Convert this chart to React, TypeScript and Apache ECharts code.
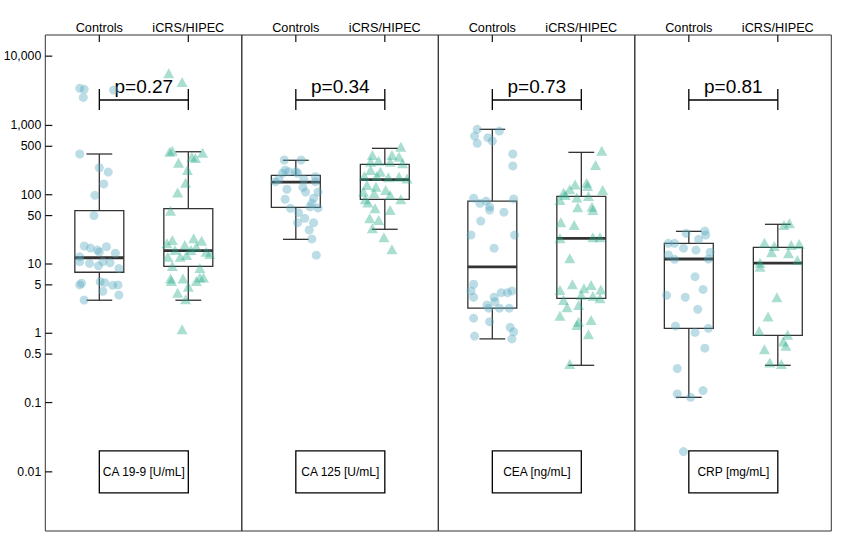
import React, { useEffect, useRef } from 'react';
import * as echarts from 'echarts';

const FONT = "'Liberation Sans', Arial, sans-serif";

const PANEL_LABELS = ['CA 19-9 [U/mL]', 'CA 125 [U/mL]', 'CEA [ng/mL]', 'CRP [mg/mL]'];
const GROUPS = ['Controls', 'iCRS/HIPEC'];
const P_VALUES = ['p=0.27', 'p=0.34', 'p=0.73', 'p=0.81'];
const BRACKET_VALUE = 2330;
const LABEL_BOX_VALUE = 0.01;

const Y_TICKS = [0.01, 0.1, 0.5, 1, 5, 10, 50, 100, 500, 1000, 10000];
const Y_TICK_LABELS = ['0.01', '0.1', '0.5', '1', '5', '10', '50', '100', '500', '1,000', '10,000'];
const Y_MIN = 0.0014;
const Y_MAX = 20200;
const X_MIN = 0.393;
const X_MAX = 2.601;

// box stats: [lower whisker, Q1, median, Q3, upper whisker]
const ca199Box = [[3.0, 7.6, 12.3, 58.8, 387], [3.0, 9.27, 15.6, 62.8, 417]];
const ca125Box = [[22.7, 65.8, 152, 190, 314], [31.7, 85.8, 165, 275, 467]];
const ceaBox = [[0.83, 2.3, 9.1, 81, 879], [0.345, 3.2, 23.5, 94.8, 409]];
const crpBox = [[0.119, 1.18, 11.8, 19.9, 29.6], [0.345, 0.935, 10.3, 17.4, 37.4]];

// points: [jitter offset, value]
const ca199Controls = [
  [-0.22, 3430], [-0.17, 3320], [-0.18, 2540], [0.16, 3240], [-0.22, 387], [0, 245], [0.1, 212], [0.05, 143],
  [-0.05, 98], [-0.06, 50], [-0.17, 18.2], [-0.1, 17], [-0.02, 15.9], [0, 14.9], [0.08, 17.8], [0.18, 14.3],
  [-0.22, 12.7], [-0.22, 10.8], [-0.11, 10.2], [-0.01, 9.4], [0.04, 10.8], [0.22, 8.6], [0.12, 10.4],
  [-0.22, 4.98], [-0.2, 5.27], [0.01, 5.56], [0.06, 5.37], [0.15, 4.93], [0.21, 4.98], [0.04, 4.04],
  [0.22, 3.57], [-0.17, 3.02],
];
const ca199Hipec = [
  [-0.22, 5650], [-0.07, 4230], [-0.18, 432], [-0.21, 417], [0.16, 404], [0.04, 353], [0.08, 338], [-0.11, 290],
  [-0.01, 227], [-0.03, 149], [-0.12, 108], [-0.2, 58.8], [-0.24, 19.9], [-0.18, 22.2], [0.06, 23.5], [0.15, 21.7],
  [-0.04, 18.8], [0.03, 15.9], [0.09, 17.8], [0.2, 15], [0.24, 13.9], [-0.23, 12.7], [-0.09, 12.7], [-0.02, 13.5],
  [-0.15, 15.9], [-0.18, 9.36], [0.13, 8.75], [-0.2, 6.2], [-0.06, 6.2], [0.13, 6.4], [0.17, 6.4], [0.09, 5.7],
  [-0.19, 5.7], [-0.12, 3.86], [0, 4.7], [-0.03, 3.1], [-0.07, 1.14],
];
const ca125Controls = [
  [-0.13, 317], [0.06, 317], [-0.12, 227], [-0.08, 215], [0, 215], [0.02, 204], [-0.15, 204], [-0.19, 167],
  [-0.23, 154], [0.22, 182], [0.22, 154], [0.09, 167], [-0.1, 120], [0.08, 128], [0.11, 109], [0.25, 109],
  [-0.12, 86], [0.2, 89], [0.18, 75], [0.16, 67], [0.25, 64.5], [-0.06, 63.7], [0.03, 55], [0.1, 45.6],
  [0.02, 39.5], [0.2, 39.5], [0.15, 31], [0.18, 23], [0.23, 13.4],
];
const ca125Hipec = [
  [0.18, 493], [-0.14, 374], [0.08, 374], [0.16, 353], [-0.07, 309], [-0.16, 299], [0.06, 299], [0.2, 284],
  [-0.16, 227], [-0.05, 215], [-0.09, 186], [-0.23, 186], [0.04, 178], [0.16, 182], [0.25, 172], [-0.2, 138],
  [-0.1, 130], [0.01, 117], [-0.24, 110], [-0.12, 105], [0.06, 99], [0.18, 86], [-0.22, 86], [-0.19, 77],
  [-0.11, 63.7], [0.06, 60], [-0.17, 45.6], [-0.07, 43], [-0.14, 32.7], [-0.01, 24.3], [0.08, 16.3],
];
const ceaControls = [
  [-0.17, 879], [0.08, 830], [-0.2, 703], [-0.05, 665], [0, 596], [-0.17, 552], [0.23, 387], [0.23, 260],
  [-0.21, 89], [-0.14, 75], [-0.07, 81], [-0.03, 60], [-0.03, 67], [0.24, 87], [0.13, 56], [-0.13, 41.7],
  [-0.24, 26.2], [0.25, 26.2], [0.02, 16.9], [-0.21, 5.1], [-0.24, 4.08], [-0.21, 3.31], [0.02, 3.31],
  [0.1, 3.85], [0.17, 3.85], [0.22, 4.08], [0.03, 2.86], [-0.06, 2.56], [0.08, 2.3], [0.19, 2.3], [-0.04, 2.3],
  [-0.21, 1.65], [-0.03, 1.47], [0.2, 1.22], [0.24, 1.05], [-0.2, 0.91], [0.22, 0.83],
];
const ceaHipec = [
  [0.23, 432], [0.16, 268], [-0.07, 141], [0.06, 149], [0.07, 134], [-0.2, 107], [-0.13, 120], [0.24, 117],
  [-0.18, 99], [-0.24, 84], [-0.05, 91], [0.08, 96], [0.12, 67], [0.13, 60], [-0.04, 66], [-0.23, 40],
  [-0.08, 36.5], [-0.24, 23.5], [0.13, 24.3], [0.21, 24.3], [-0.13, 12.1], [-0.1, 5.1], [-0.24, 4.2],
  [0.03, 4.46], [0.11, 4.98], [0.22, 4.3], [-0.2, 3.02], [0.13, 3.45], [0.21, 3.2], [0, 3.58], [-0.16, 2.37],
  [-0.03, 2.56], [-0.24, 1.79], [-0.05, 1.32], [-0.03, 1.47], [0.11, 1.56], [0.08, 0.97], [-0.13, 0.36],
];
const crpControls = [
  [-0.03, 27.7], [0.18, 29.9], [0.19, 26.2], [0.11, 22.7], [-0.23, 19.9], [-0.16, 19.9], [-0.06, 16.9],
  [0.08, 15.9], [0.24, 14.8], [-0.23, 13.5], [-0.16, 11.7], [0.22, 11.8], [0.07, 6.56], [0.16, 4.3],
  [-0.25, 3.53], [-0.04, 3.31], [0.1, 2.22], [-0.15, 1.27], [0.22, 1.18], [0.07, 1.03], [0.18, 0.61],
  [-0.13, 0.31], [-0.13, 0.133], [0.02, 0.119], [0.16, 0.149], [-0.06, 0.0196],
];
const crpHipec = [
  [0.07, 36.5], [0.13, 38.6], [-0.15, 20.3], [-0.04, 18.2], [-0.07, 14.8], [0.15, 18.8], [0.24, 19.4],
  [0.12, 14.3], [-0.2, 10.4], [0.22, 11.4], [-0.2, 9.1], [-0.01, 3.31], [-0.11, 1.74], [-0.21, 1.08],
  [0.11, 0.95], [0.06, 0.76], [0.09, 0.66], [-0.15, 0.59], [-0.09, 0.38], [0.04, 0.36],
];

const BOXES = [ca199Box, ca125Box, ceaBox, crpBox];
const CONTROLS = [ca199Controls, ca125Controls, ceaControls, crpControls];
const HIPEC = [ca199Hipec, ca125Hipec, ceaHipec, crpHipec];

const lg = (v: number) => Math.log10(v);
const TICK_LEN = 7;

function buildOption() {
  const grids: any[] = [];
  const xAxes: any[] = [];
  const yAxes: any[] = [];
  const series: any[] = [];
  const panelW = 196.5;
  const tickLogs = Y_TICKS.map(lg);
  const yTop = lg(Y_MAX);

  PANEL_LABELS.forEach((label, i) => {
    grids.push({
      left: 45.3 + i * panelW, top: 35, width: panelW, height: 496,
      show: true, borderColor: '#333', borderWidth: 1, backgroundColor: 'transparent',
    });
    xAxes.push({
      gridIndex: i, type: 'value', position: 'top', min: X_MIN, max: X_MAX,
      axisLine: { show: false, onZero: false }, splitLine: { show: false },
      axisTick: { show: false },
      axisLabel: {
        customValues: [1, 2], margin: 1, fontSize: 12.7, color: '#000', fontFamily: FONT,
        formatter: (v: number) => GROUPS[Math.round(v) - 1] ?? '',
      },
    });
    yAxes.push({
      gridIndex: i, type: 'value', min: lg(Y_MIN), max: yTop, show: i === 0,
      axisLine: { show: false, onZero: false }, splitLine: { show: false },
      axisTick: { show: false },
      axisLabel: {
        customValues: tickLogs, margin: 4, fontSize: 12.3, color: '#000', fontFamily: FONT,
        formatter: (v: number) => {
          const idx = tickLogs.findIndex((t) => Math.abs(t - v) < 1e-6);
          return idx >= 0 ? Y_TICK_LABELS[idx] : '';
        },
      },
    });

    series.push({
      type: 'custom', xAxisIndex: i, yAxisIndex: i, silent: true,
      data: BOXES[i].map((b, g) => [g + 1, ...b.map(lg)]),
      encode: { x: 0, y: [1, 2, 3, 4, 5] },
      renderItem: (params: any, api: any) => {
        const x = api.value(0);
        const low = api.coord([x, api.value(1)]);
        const q1 = api.coord([x, api.value(2)]);
        const med = api.coord([x, api.value(3)]);
        const q3 = api.coord([x, api.value(4)]);
        const high = api.coord([x, api.value(5)]);
        const bw = api.size([0.55, 0])[0];
        const cw = api.size([0.29, 0])[0];
        const cx = low[0];
        const st = { stroke: '#333', lineWidth: 1.3, fill: 'none' };
        return {
          type: 'group',
          children: [
            { type: 'line', shape: { x1: cx, y1: high[1], x2: cx, y2: q3[1] }, style: st },
            { type: 'line', shape: { x1: cx, y1: q1[1], x2: cx, y2: low[1] }, style: st },
            { type: 'line', shape: { x1: cx - cw / 2, y1: high[1], x2: cx + cw / 2, y2: high[1] }, style: st },
            { type: 'line', shape: { x1: cx - cw / 2, y1: low[1], x2: cx + cw / 2, y2: low[1] }, style: st },
            { type: 'rect', shape: { x: cx - bw / 2, y: q3[1], width: bw, height: q1[1] - q3[1] }, style: st },
            { type: 'line', shape: { x1: cx - bw / 2, y1: med[1], x2: cx + bw / 2, y2: med[1] }, style: { stroke: '#333', lineWidth: 2.8 } },
          ],
        };
      },
    });

    series.push({
      type: 'scatter', xAxisIndex: i, yAxisIndex: i, silent: true,
      symbol: 'circle', symbolSize: 9,
      itemStyle: { color: 'rgba(89,171,193,0.5)', borderWidth: 0 },
      data: CONTROLS[i].map(([o, v]) => [1 + o, lg(v)]),
    });
    series.push({
      type: 'scatter', xAxisIndex: i, yAxisIndex: i, silent: true,
      symbol: 'triangle', symbolSize: [11, 10],
      itemStyle: { color: 'rgba(39,173,141,0.5)', borderWidth: 0 },
      data: HIPEC[i].map(([o, v]) => [2 + o, lg(v)]),
    });

    series.push({
      type: 'custom', xAxisIndex: i, yAxisIndex: i, silent: true,
      data: [[1, 2, lg(BRACKET_VALUE), lg(LABEL_BOX_VALUE)]],
      encode: { x: [0, 1], y: [2, 3] },
      renderItem: (params: any, api: any) => {
        const a = api.coord([api.value(0), api.value(2)]);
        const b = api.coord([api.value(1), api.value(2)]);
        const c = api.coord([api.value(0), api.value(3)]);
        const d = api.coord([api.value(1), api.value(3)]);
        const st = { stroke: '#000', lineWidth: 1.3 };
        return {
          type: 'group',
          children: [
            { type: 'line', shape: { x1: a[0], y1: a[1], x2: b[0], y2: b[1] }, style: st },
            { type: 'line', shape: { x1: a[0], y1: a[1] - 11, x2: a[0], y2: a[1] + 10 }, style: st },
            { type: 'line', shape: { x1: b[0], y1: b[1] - 11, x2: b[0], y2: b[1] + 10 }, style: st },
            {
              type: 'text', x: (a[0] + b[0]) / 2, y: a[1] - 13,
              style: { text: P_VALUES[i], fontSize: 19, fontFamily: FONT, fill: '#000', align: 'center', verticalAlign: 'middle' },
            },
            { type: 'rect', shape: { x: c[0], y: c[1] - 21, width: d[0] - c[0], height: 42 }, style: { stroke: '#000', lineWidth: 1.3, fill: '#fff' } },
            {
              type: 'text', x: (c[0] + d[0]) / 2, y: c[1],
              style: { text: label, fontSize: 12, fontFamily: FONT, fill: '#000', align: 'center', verticalAlign: 'middle' },
            },
          ],
        };
      },
    });

    // axis ticks placed through the axes' scales, pointing inward
    const tickData: number[][] = GROUPS.map((_, g) => [g + 1, yTop, 0]);
    if (i === 0) tickLogs.forEach((t) => tickData.push([X_MIN, t, 1]));
    series.push({
      type: 'custom', xAxisIndex: i, yAxisIndex: i, silent: true, clip: false, z: 50,
      data: tickData,
      encode: { x: 0, y: 1 },
      renderItem: (params: any, api: any) => {
        const p = api.coord([api.value(0), api.value(1)]);
        const horizontal = api.value(2) === 1;
        return {
          type: 'group',
          children: [
            {
              type: 'line',
              shape: horizontal
                ? { x1: p[0], y1: p[1], x2: p[0] + TICK_LEN, y2: p[1] }
                : { x1: p[0], y1: p[1], x2: p[0], y2: p[1] + TICK_LEN },
              style: { stroke: '#111', lineWidth: 1.2 },
            },
          ],
        };
      },
    });
  });

  return {
    animation: false,
    backgroundColor: '#fff',
    grid: grids,
    xAxis: xAxes,
    yAxis: yAxes,
    series,
  };
}

export default function App() {
  const ref = useRef<HTMLDivElement>(null);
  useEffect(() => {
    const chart = echarts.init(ref.current!, null, { renderer: 'svg' });
    chart.setOption(buildOption() as any);
    return () => chart.dispose();
  }, []);
  return <div ref={ref} style={{ position: 'absolute', left: 0, top: 0, width: 850, height: 550 }} />;
}
